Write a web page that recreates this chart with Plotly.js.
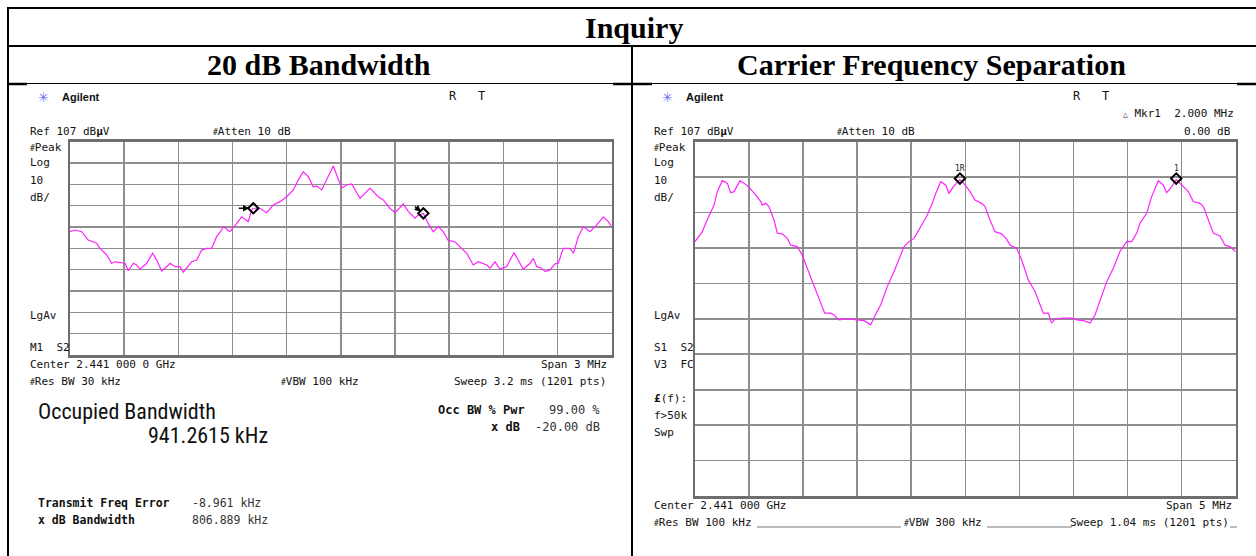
<!DOCTYPE html>
<html>
<head>
<meta charset="utf-8">
<script src="https://cdn.plot.ly/plotly-3.0.1.min.js"></script>
<style>
  html, body { margin: 0; padding: 0; background: #ffffff; }
  #chart { width: 1256px; height: 556px; }
</style>
</head>
<body>
<div id="chart"></div>
<script>
// ---------------- data ----------------
// Left: 20 dB Bandwidth, offset from centre 2.441 GHz (MHz) and level (dBµV)
const bwFreqMHz = [-1.500,-1.472,-1.435,-1.399,-1.352,-1.334,-1.297,-1.269,-1.251,-1.195,
  -1.177,-1.149,-1.131,-1.112,-1.075,-1.042,-1.020,-0.992,-0.974,-0.946,
  -0.918,-0.891,-0.873,-0.854,-0.826,-0.798,-0.771,-0.743,-0.715,-0.688,
  -0.660,-0.651,-0.614,-0.577,-0.549,-0.513,-0.494,-0.485,-0.448,-0.411,
  -0.374,-0.337,-0.300,-0.263,-0.236,-0.208,-0.180,-0.153,-0.134,-0.106,
  -0.078,-0.042,0.005,0.032,0.060,0.106,0.134,0.161,0.207,0.235,
  0.272,0.300,0.346,0.374,0.411,0.429,0.457,0.484,0.512,0.540,
  0.567,0.595,0.632,0.660,0.697,0.733,0.761,0.808,0.826,0.854,
  0.881,0.918,0.959,0.992,1.010,1.048,1.066,1.085,1.112,1.131,
  1.158,1.186,1.204,1.232,1.269,1.288,1.315,1.343,1.380,1.417,
  1.454,1.481,1.500];
const bwLevel = [64.8,65.6,64.8,60.9,59.4,57.0,53.9,50.0,50.7,50.0,
  46.5,50.0,49.2,47.2,50.0,54.7,51.5,46.4,47.7,50.0,
  48.4,48.4,45.8,47.7,50.7,51.5,56.2,57.0,57.0,62.5,
  65.6,67.2,64.8,68.7,71.8,69.5,75.0,75.8,75.8,73.7,
  77.3,78.9,81.2,84.4,89.0,92.9,90.6,85.9,86.2,84.4,
  89.0,95.6,85.2,86.7,87.2,80.5,82.8,85.2,81.2,79.7,
  75.8,73.7,77.8,74.2,71.1,72.6,73.4,68.7,64.8,67.2,
  64.8,60.7,60.1,57.8,54.7,49.2,50.7,49.2,47.7,50.7,
  47.3,48.4,55.0,50.0,47.2,50.0,52.3,48.4,47.7,46.1,
  46.9,49.7,50.0,57.0,57.0,54.7,62.5,67.2,64.8,68.0,
  71.8,69.5,67.2];
const bwMarkerFreq = [-0.485, 0.457];
const bwMarkerLevel = [75.8, 73.4];

// Right: Carrier Frequency Separation
const csFreqMHz = [-2.500,-2.463,-2.432,-2.401,-2.355,-2.324,-2.294,-2.248,-2.201,-2.170,
  -2.139,-2.084,-2.047,-2.001,-1.939,-1.892,-1.878,-1.846,-1.816,-1.769,
  -1.739,-1.693,-1.647,-1.615,-1.554,-1.508,-1.462,-1.415,-1.375,-1.338,
  -1.301,-1.245,-1.215,-1.168,-1.122,-1.060,-0.999,-0.937,-0.875,-0.845,
  -0.783,-0.722,-0.660,-0.598,-0.567,-0.521,-0.475,-0.413,-0.352,-0.306,
  -0.274,-0.228,-0.182,-0.151,-0.111,-0.050,-0.003,0.043,0.089,0.151,
  0.182,0.228,0.274,0.336,0.382,0.413,0.475,0.521,0.582,0.644,
  0.691,0.721,0.767,0.798,0.829,0.906,0.983,1.030,1.091,1.153,
  1.199,1.245,1.307,1.368,1.430,1.492,1.538,1.585,1.615,1.677,
  1.723,1.784,1.830,1.862,1.908,1.950,2.001,2.062,2.108,2.170,
  2.201,2.247,2.293,2.355,2.401,2.447,2.500];
const csLevel = [78.8,80.2,81.6,84.0,86.8,89.1,92.9,96.0,95.3,92.6,
  92.9,96.0,95.3,94.1,92.0,90.1,89.1,89.6,88.7,84.9,
  81.2,81.0,79.7,77.8,77.4,75.0,71.3,67.5,64.7,61.8,
  58.6,58.6,58.1,56.7,56.9,56.9,56.7,56.5,55.3,57.4,
  60.9,66.1,70.3,75.0,77.4,78.8,79.7,83.0,86.3,89.6,
  92.4,95.7,94.8,92.4,94.3,96.3,94.8,92.9,90.5,89.6,
  88.7,84.9,81.6,81.0,79.5,77.8,76.9,73.6,68.0,64.7,
  60.9,58.6,58.6,55.8,56.9,57.2,57.2,56.7,56.5,55.8,
  58.1,62.3,67.5,71.3,76.0,78.8,78.8,81.2,84.0,86.8,
  91.5,96.0,94.8,92.6,94.3,96.3,94.8,92.9,90.1,89.6,
  88.7,84.9,81.2,80.4,77.8,77.4,75.9];
const csMarkerFreq = [-0.050, 1.950];
const csMarkerLevel = [96.6, 96.6];
const csMarkerLabels = ["1R", "1"];

const refLevel = 107, dbPerDiv = 10;
const bwSpanMHz = 3, csSpanMHz = 5;

// ---------------- layout helpers ----------------
const W = 1256, H = 556;
const X = px => px / W;
const Y = py => 1 - py / H;
const MONO = "DejaVu Sans Mono, Liberation Mono, monospace";
const SANS = "Liberation Sans, Arial, sans-serif";
const NARROW = "Liberation Sans Narrow, Roboto Condensed, Roboto, sans-serif";
const SERIF = "Liberation Serif, Times New Roman, serif";

const annotations = [];
function txt(text, px, py, o) {
  o = o || {};
  annotations.push({
    text: text, x: X(px), y: Y(py), xref: "paper", yref: "paper",
    xanchor: o.xa || "left", yanchor: o.ya || "middle", showarrow: false,
    borderpad: 0,
    font: { family: o.family || MONO, size: o.size || 11, color: o.color || "#111" }
  });
}

// headers
txt("<b>Inquiry</b>", 634, 27, {xa: "center", family: SERIF, size: 30, color: "#000"});
txt("<b>20 dB Bandwidth</b>", 319, 65, {xa: "center", family: SERIF, size: 30, color: "#000"});
txt("<b>Carrier Frequency Separation</b>", 931, 65, {xa: "center", family: SERIF, size: 30, color: "#000"});

const HASH = "<span style='font-size:8px'>#</span>";

// left screen texts
txt("✳", 43, 97, {xa: "center", family: "DejaVu Sans", size: 13, color: "#6b6bff"});
txt("<b>Agilent</b>", 61, 97, {family: SANS, size: 11});
txt("R   T", 448, 96, {size: 12});
txt("Ref 107 dB<b>µ</b>V", 29, 132);
txt(HASH + "Atten 10 dB", 212, 132);
txt(HASH + "Peak", 29, 147);
txt("Log", 29, 163);
txt("10", 29, 180);
txt("dB/", 29, 197);
txt("LgAv", 29, 315);
txt("M1  S2", 29, 347);
txt("Center 2.441 000 0 GHz", 29, 364);
txt(HASH + "Res BW 30 kHz", 29, 382);
txt(HASH + "VBW 100 kHz", 280, 382);
txt("Span 3 MHz", 608, 364, {xa: "right"});
txt("Sweep 3.2 ms (1201 pts)", 607, 382, {xa: "right"});
txt("Occupied Bandwidth", 37, 411, {family: NARROW, size: 22});
txt("941.2615 kHz", 147, 435, {family: NARROW, size: 22});
txt("<b>Occ BW % Pwr</b>", 437, 410, {size: 12});
txt("99.00 %", 601, 410, {xa: "right", size: 12, color: "#333"});
txt("<b>x dB</b>", 521, 427, {xa: "right", size: 12});
txt("-20.00 dB", 601, 427, {xa: "right", size: 12, color: "#333"});
txt("<b>Transmit Freq Error</b>", 37, 503, {size: 11.5});
txt("-8.961 kHz", 191, 503, {size: 11.5, color: "#333"});
txt("<b>x dB Bandwidth</b>", 37, 520, {size: 11.5});
txt("806.889 kHz", 191, 520, {size: 11.5, color: "#333"});

// right screen texts
txt("✳", 667, 97, {xa: "center", family: "DejaVu Sans", size: 13, color: "#6b6bff"});
txt("<b>Agilent</b>", 685, 97, {family: SANS, size: 11});
txt("R   T", 1072, 96, {size: 12});
txt("<span style='font-size:8px'>△</span> Mkr1  2.000 MHz", 1235, 113, {xa: "right"});
txt("0.00 dB", 1232, 131, {xa: "right"});
txt("Ref 107 dB<b>µ</b>V", 653, 132);
txt(HASH + "Atten 10 dB", 836, 132);
txt(HASH + "Peak", 653, 147);
txt("Log", 653, 163);
txt("10", 653, 180);
txt("dB/", 653, 197);
txt("LgAv", 653, 315);
txt("S1  S2", 653, 347);
txt("V3  FC", 653, 364);
txt("<b>£</b>(f):", 653, 398);
txt("f>50k", 653, 415);
txt("Swp", 653, 432);
txt("Center 2.441 000 GHz", 653, 505);
txt("Span 5 MHz", 1233, 505, {xa: "right"});
txt(HASH + "Res BW 100 kHz", 653, 522);
txt(HASH + "VBW 300 kHz", 903, 522);
txt("Sweep 1.04 ms (1201 pts)", 1230, 522, {xa: "right"});

// marker arrows (left)
annotations.push({x: bwMarkerFreq[0], y: bwMarkerLevel[0], xref: "x", yref: "y",
  showarrow: true, ax: -16, ay: 0, arrowhead: 2, arrowsize: 0.9, arrowwidth: 1.4,
  arrowcolor: "#000", standoff: 4, text: ""});
annotations.push({x: bwMarkerFreq[1], y: bwMarkerLevel[1], xref: "x", yref: "y",
  showarrow: true, ax: -10, ay: -8, arrowhead: 2, arrowsize: 0.9, arrowwidth: 1.4,
  arrowcolor: "#000", standoff: 3, text: ""});
// marker labels (right)
csMarkerFreq.forEach((f, i) => {
  annotations.push({x: f, y: csMarkerLevel[i], xref: "x2", yref: "y2", yshift: 10,
    text: csMarkerLabels[i], showarrow: false, yanchor: "middle",
    font: {family: MONO, size: 8, color: "#222"}});
});

// ---------------- table borders ----------------
const line = (x0, y0, x1, y1, w, c) => ({type: "line", xref: "paper", yref: "paper",
  x0: X(x0), y0: Y(y0), x1: X(x1), y1: Y(y1), line: {color: c || "#000", width: w}});
const shapes = [
  line(7, 8, 1256, 8, 2),
  line(8, 7, 8, 556, 2),
  line(8, 46, 1256, 46, 2),
  line(8, 84, 27, 84, 2.5),
  line(27, 83.5, 613, 83.5, 1),
  line(613, 84, 652, 84, 2.5),
  line(652, 83.5, 1237, 83.5, 1),
  line(1237, 84, 1256, 84, 2.5),
  line(632, 46, 632, 556, 2),
  line(757, 527, 901, 527, 1, "#777"),
  line(987, 527, 1072, 527, 1, "#777"),
  line(1230, 527, 1237, 527, 1, "#777")
];

// ---------------- traces ----------------
const TRACE = "#ff22ff";
const data = [
  {x: bwFreqMHz, y: bwLevel, xaxis: "x", yaxis: "y", type: "scatter", mode: "lines",
   line: {color: TRACE, width: 1.2}, hoverinfo: "skip"},
  {x: bwMarkerFreq, y: bwMarkerLevel, xaxis: "x", yaxis: "y", type: "scatter", mode: "markers",
   marker: {symbol: "diamond-open", size: 8, color: "#000", line: {width: 2, color: "#000"}}},
  {x: csFreqMHz, y: csLevel, xaxis: "x2", yaxis: "y2", type: "scatter", mode: "lines",
   line: {color: TRACE, width: 1.2}, hoverinfo: "skip"},
  {x: csMarkerFreq, y: csMarkerLevel, xaxis: "x2", yaxis: "y2", type: "scatter", mode: "markers",
   marker: {symbol: "diamond-open", size: 8, color: "#000", line: {width: 2, color: "#000"}}}
];

const GRID = "#8e8e8e", FRAME = "#6e6e6e";
function ax(range, dtick, domain, anchor) {
  return {range: range, dtick: dtick, tick0: range[0], domain: domain, anchor: anchor,
    showgrid: true, gridcolor: GRID, gridwidth: 1.6, zeroline: false,
    showticklabels: false, ticks: "", showline: true, mirror: true,
    linecolor: FRAME, linewidth: 2.5, fixedrange: true};
}

const layout = {
  width: W, height: H, margin: {l: 0, r: 0, t: 0, b: 0},
  paper_bgcolor: "#fff", plot_bgcolor: "#fff", showlegend: false,
  xaxis: ax([-bwSpanMHz / 2, bwSpanMHz / 2], bwSpanMHz / 10, [X(70), X(611.7)], "y"),
  yaxis: ax([refLevel - 10 * dbPerDiv, refLevel], dbPerDiv, [Y(355), Y(141.7)], "x"),
  xaxis2: ax([-csSpanMHz / 2, csSpanMHz / 2], csSpanMHz / 10, [X(695), X(1235.7)], "y2"),
  yaxis2: ax([refLevel - 10 * dbPerDiv, refLevel], dbPerDiv, [Y(496), Y(141.7)], "x2"),
  annotations: annotations,
  shapes: shapes
};

Plotly.newPlot("chart", data, layout, {staticPlot: true, displayModeBar: false});
</script>
</body>
</html>
